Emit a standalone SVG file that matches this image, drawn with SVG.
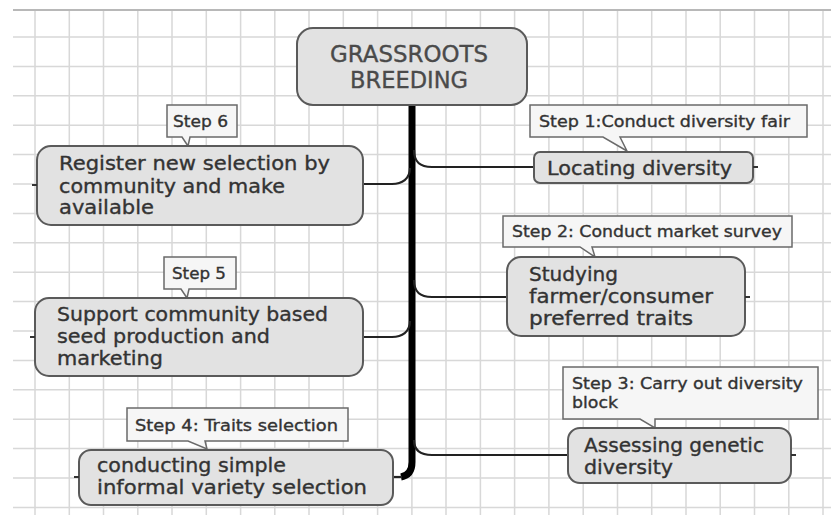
<svg xmlns="http://www.w3.org/2000/svg" width="831" height="515" viewBox="0 0 831 515">
<style>
.grid{stroke:#d8d8d8;stroke-width:1.5;fill:none}
.top{stroke:#b8b8b8;stroke-width:2;fill:none}
.node{fill:#e2e2e2;stroke:#5a5a5a;stroke-width:2}
.call{fill:#f6f6f6;stroke:#6a6a6a;stroke-width:1.5}
.stub{stroke:#333;stroke-width:2}
.t{font-family:"DejaVu Sans","Liberation Sans",sans-serif;fill:#333;stroke:#333;stroke-width:0.35}
.nt{font-size:19px}
.lt{font-size:15.5px}
.ct{font-size:23px;fill:#4a4a4a;stroke:#4a4a4a}
.conn{fill:none;stroke:#222;stroke-width:2.2}
.spine{fill:none;stroke:#000;stroke-width:7}
</style>
<rect width="831" height="515" fill="#ffffff"/>
<g id="grid">
<path class="grid" d="M35,10V515M69.3,10V515M103.5,10V515M137.8,10V515M172,10V515M206.3,10V515M240.6,10V515M274.8,10V515M309,10V515M343.3,10V515M377.6,10V515M411.9,10V515M446,10V515M480.4,10V515M514.6,10V515M548.9,10V515M583.2,10V515M617.5,10V515M651.7,10V515M686,10V515M720.2,10V515M754.5,10V515M788.8,10V515M823,10V515"/>
<path class="grid" d="M13,37H831M13,66.4H831M13,95.8H831M13,125.2H831M13,154.6H831M13,184H831M13,213.4H831M13,242.8H831M13,272.2H831M13,301.6H831M13,331H831M13,360.4H831M13,389.8H831M13,419.2H831M13,448.6H831M13,478H831M13,507.4H831"/>
<path class="top" d="M13,10H831"/>
</g>
<g id="connectors">
<path class="spine" d="M412,104 V462 Q412,475 401,477"/>
<path class="conn" d="M414,150 C414,162 420,167 432,167 H534"/>
<path class="conn" d="M363,184 H392 C402,184 410,179 410,168"/>
<path class="conn" d="M414,280 C414,292 420,297 432,297 H507"/>
<path class="conn" d="M363,337 H392 C402,337 410,332 410,321"/>
<path class="conn" d="M414,440 C414,450 420,455 432,455 H568"/>
<path class="conn" d="M393,477 H402"/>
</g>
<g id="central">
<rect class="node" x="297" y="28" width="230" height="77" rx="16"/>
<text class="t ct" x="330" y="62" textLength="158" lengthAdjust="spacingAndGlyphs">GRASSROOTS</text>
<text class="t ct" x="350" y="88" textLength="118" lengthAdjust="spacingAndGlyphs">BREEDING</text>
</g>
<g id="step1">
<path class="call" d="M530,105 H807 V137 H620 L627,151 L603,137 H530 Z"/>
<text class="t lt" x="539" y="127" textLength="251" lengthAdjust="spacingAndGlyphs">Step 1:Conduct diversity fair</text>
</g>
<g id="locating">
<rect class="node" x="534" y="152" width="219" height="31" rx="6"/>
<line class="stub" x1="753" y1="167" x2="758" y2="167"/>
<text class="t nt" x="547" y="175" textLength="185" lengthAdjust="spacingAndGlyphs">Locating diversity</text>
</g>
<g id="step2">
<path class="call" d="M503,216 H792 V247 H592 L595,257 L580,247 H503 Z"/>
<text class="t lt" x="512" y="237" textLength="270" lengthAdjust="spacingAndGlyphs">Step 2: Conduct market survey</text>
</g>
<g id="studying">
<rect class="node" x="507" y="257" width="238" height="79" rx="14"/>
<line class="stub" x1="745" y1="297" x2="750" y2="297"/>
<text class="t nt" x="529" y="281" textLength="89" lengthAdjust="spacingAndGlyphs">Studying</text>
<text class="t nt" x="529" y="303" textLength="184" lengthAdjust="spacingAndGlyphs">farmer/consumer</text>
<text class="t nt" x="529" y="325" textLength="164" lengthAdjust="spacingAndGlyphs">preferred traits</text>
</g>
<g id="step3">
<path class="call" d="M563,367 H818 V419 H655 V428 L640,419 H563 Z"/>
<text class="t lt" x="572" y="389" textLength="231" lengthAdjust="spacingAndGlyphs">Step 3: Carry out diversity</text>
<text class="t lt" x="572" y="408" textLength="46" lengthAdjust="spacingAndGlyphs">block</text>
</g>
<g id="assessing">
<rect class="node" x="568" y="428" width="223" height="55" rx="12"/>
<line class="stub" x1="791" y1="455" x2="796" y2="455"/>
<text class="t nt" x="584" y="452" textLength="180" lengthAdjust="spacingAndGlyphs">Assessing genetic</text>
<text class="t nt" x="584" y="474" textLength="89" lengthAdjust="spacingAndGlyphs">diversity</text>
</g>
<g id="step6">
<path class="call" d="M167,105 H237 V137 H190 L188,146 L182,137 H167 Z"/>
<text class="t lt" x="173" y="127" textLength="55" lengthAdjust="spacingAndGlyphs">Step 6</text>
</g>
<g id="register">
<rect class="node" x="37" y="146" width="326" height="79" rx="14"/>
<line class="stub" x1="32" y1="185" x2="37" y2="185"/>
<text class="t nt" x="59" y="170" textLength="271" lengthAdjust="spacingAndGlyphs">Register new selection by</text>
<text class="t nt" x="59" y="193" textLength="226" lengthAdjust="spacingAndGlyphs">community and make</text>
<text class="t nt" x="59" y="214" textLength="95" lengthAdjust="spacingAndGlyphs">available</text>
</g>
<g id="step5">
<path class="call" d="M164,257 H236 V289 H189 L187,298 L181,289 H164 Z"/>
<text class="t lt" x="172" y="279" textLength="54" lengthAdjust="spacingAndGlyphs">Step 5</text>
</g>
<g id="support">
<rect class="node" x="35" y="298" width="328" height="78" rx="14"/>
<line class="stub" x1="30" y1="337" x2="35" y2="337"/>
<text class="t nt" x="57" y="321" textLength="271" lengthAdjust="spacingAndGlyphs">Support community based</text>
<text class="t nt" x="57" y="343" textLength="213" lengthAdjust="spacingAndGlyphs">seed production and</text>
<text class="t nt" x="57" y="365" textLength="106" lengthAdjust="spacingAndGlyphs">marketing</text>
</g>
<g id="step4">
<path class="call" d="M127,408 H348 V441 H205 L207,449 L188,441 H127 Z"/>
<text class="t lt" x="135" y="431" textLength="203" lengthAdjust="spacingAndGlyphs">Step 4: Traits selection</text>
</g>
<g id="conducting">
<rect class="node" x="79" y="450" width="314" height="55" rx="12"/>
<line class="stub" x1="74" y1="477" x2="79" y2="477"/>
<text class="t nt" x="97" y="472" textLength="189" lengthAdjust="spacingAndGlyphs">conducting simple</text>
<text class="t nt" x="97" y="494" textLength="270" lengthAdjust="spacingAndGlyphs">informal variety selection</text>
</g>
</svg>
